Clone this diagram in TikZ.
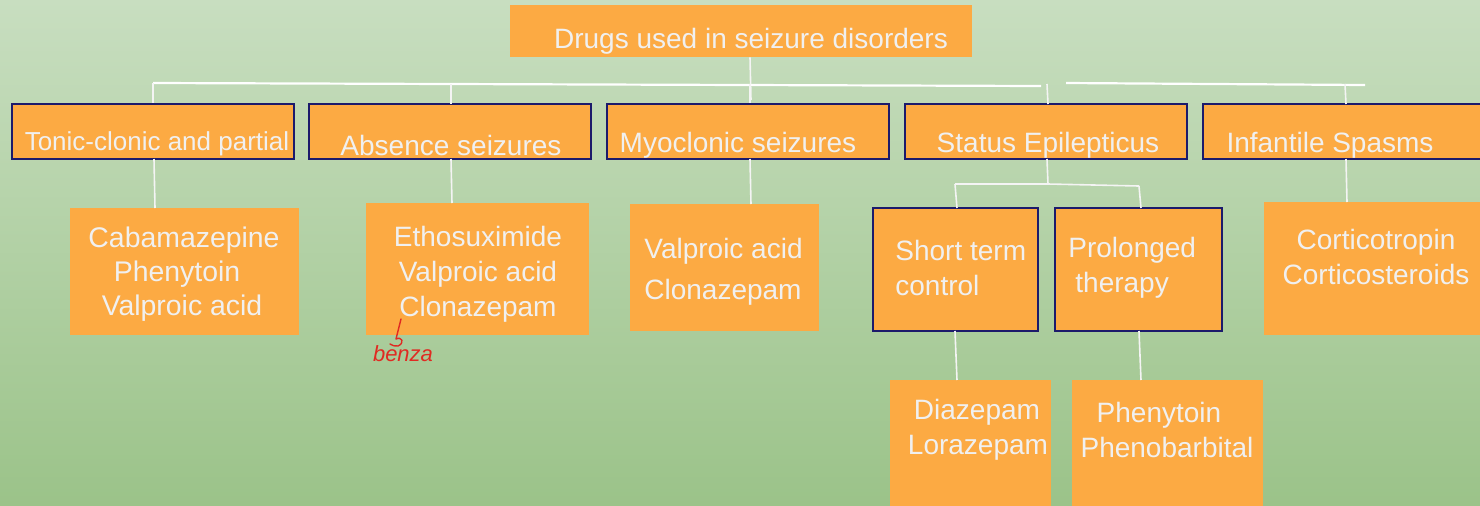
\documentclass[tikz,border=0pt]{standalone}
\usepackage{fontspec}
\setmainfont{Liberation Sans}
\definecolor{org}{HTML}{FCAA43}
\definecolor{navy}{HTML}{1C1A6B}
\definecolor{txt}{HTML}{F0F0F0}
\definecolor{lnc}{HTML}{F4F4F4}
\definecolor{bgtop}{HTML}{C8DEC0}
\definecolor{bgbot}{HTML}{9BC389}
\definecolor{pen}{HTML}{E02A22}
\tikzset{
  box/.style={fill=org, inner sep=0pt, draw=none},
  nbox/.style={box, draw=navy, line width=1pt},
  lbl/.style={text=txt, font=\fontsize{14}{17.5}\selectfont, inner sep=0pt, align=center},
  conn/.style={draw=lnc, line width=0.8pt},
}
\begin{document}
\begin{tikzpicture}[x=0.5pt,y=-0.5pt]
\useasboundingbox (0,0) rectangle (1480,505);
\shade[top color=bgtop, bottom color=bgbot] (0,0) rectangle (1480,505);

% top
\node[box, minimum width=231pt, minimum height=26pt] (top) at (741,31) {};
\node[lbl] (topt) at (751,41) {Drugs used in seizure disorders};

% row 1
\node[nbox, minimum width=141pt, minimum height=27.5pt] (t1) at (153,131.5) {};
\node[nbox, minimum width=141pt, minimum height=27.5pt] (t2) at (450,131.5) {};
\node[nbox, minimum width=141pt, minimum height=27.5pt] (t3) at (748,131.5) {};
\node[nbox, minimum width=141pt, minimum height=27.5pt] (t4) at (1046,131.5) {};
\node[nbox, minimum width=141pt, minimum height=27.5pt] (t5) at (1344,131.5) {};
\node[lbl, font=\fontsize{13}{16}\selectfont] (t1t) at (157,144) {Tonic-clonic and partial};
\node[lbl] (t2t) at (451,145) {Absence seizures};
\node[lbl] (t3t) at (738,145) {Myoclonic seizures};
\node[lbl] (t4t) at (1048,145) {Status Epilepticus};
\node[lbl] (t5t) at (1330,145) {Infantile Spasms};

% children
\node[box, minimum width=114.5pt, minimum height=63.5pt] (c1) at (184.5,271.5) {};
\node[lbl, font=\fontsize{14.2}{17.5}\selectfont] (c1t) at (184,274) {Cabamazepine\\[-0.5pt]\hspace*{-7pt}Phenytoin\\[-0.5pt]\hspace*{-2pt}Valproic acid};
\node[box, minimum width=111.5pt, minimum height=66pt] (c2) at (477.5,269) {};
\node[lbl] (c2t) at (478,274) {Ethosuximide\\Valproic acid\\Clonazepam};
\node[box, minimum width=94.5pt, minimum height=63.5pt] (c3) at (724.5,267.5) {};
\node[lbl, align=left, anchor=west, font=\fontsize{14}{20.5}\selectfont] (c3t) at (644,272) {Valproic acid\\Clonazepam};
\node[box, minimum width=108pt, minimum height=66.5pt] (c5) at (1372,268.5) {};
\node[lbl] (c5t) at (1376,256.5) {Corticotropin\\Corticosteroids};

% status epilepticus sub
\node[nbox, minimum width=82.5pt, minimum height=61.5pt] (st) at (955.5,269.5) {};
\node[lbl, align=left, anchor=west] (stt) at (895,268) {Short term\\control};
\node[nbox, minimum width=83.5pt, minimum height=61.5pt] (pt) at (1138.5,269.5) {};
\node[lbl, align=left, anchor=west] (ptt) at (1068,268) {Prolonged\\\hspace*{3.5pt}therapy};
\node[box, minimum width=80.5pt, minimum height=64pt, anchor=north] (d1) at (970.5,380) {};
\node[lbl] (d1t) at (978,430) {\hspace*{-1pt}Diazepam\\Lorazepam};
\node[box, minimum width=95.5pt, minimum height=64pt, anchor=north] (d2) at (1167.5,380) {};
\node[lbl] (d2t) at (1167,430) {\hspace*{-8pt}Phenytoin\\Phenobarbital};

% connectors top level
\coordinate (j0) at (750,84);
\coordinate (hA) at (153,83);
\coordinate (hB) at (1041,86);
\coordinate (hC) at (1066,83);
\coordinate (hD) at (1365,85);
\draw[conn] (j0 |- top.south) -- (751,100);
\draw[conn, line width=1.1pt, draw=white] (hA) -- (451,84) -- (hB);
\draw[conn, line width=1.1pt, draw=white] (hC) -- (hD);
\draw[conn] (hA) -- (hA |- t1.north);
\draw[conn] (451,84) -- (451,104);
\draw[conn] (j0) -- (j0 |- t3.north);
\draw[conn] (1047,84) -- (1048,104);
\draw[conn] (1345,84) -- (1346,104);

% connectors to children
\draw[conn] (154,159) -- (155,208);
\draw[conn] (451,159) -- (452,203);
\draw[conn] (750,159) -- (751,204);
\draw[conn] (1346,159) -- (1347,202);

% status branch
\coordinate (s0) at (1048,184);
\draw[conn] (1047,159) -- (s0);
\draw[conn] (955,184) -- (s0) -- (1139,186);
\draw[conn] (955,184) -- (957,208);
\draw[conn] (1139,186) -- (1141,208);
\draw[conn] (955,331) -- (957,380);
\draw[conn] (1139,331) -- (1141,380);

% annotation
\draw[pen, line width=0.7pt, line cap=round, line join=round] (401,319) -- (396,339) .. controls (402,336) and (405,343) .. (398,346) .. controls (395,347) and (392,345) .. (390,344);
\node[text=pen, font=\itshape\fontsize{11}{11}\selectfont, inner sep=0pt] (benza) at (403,354) {benza};
\end{tikzpicture}
\end{document}
